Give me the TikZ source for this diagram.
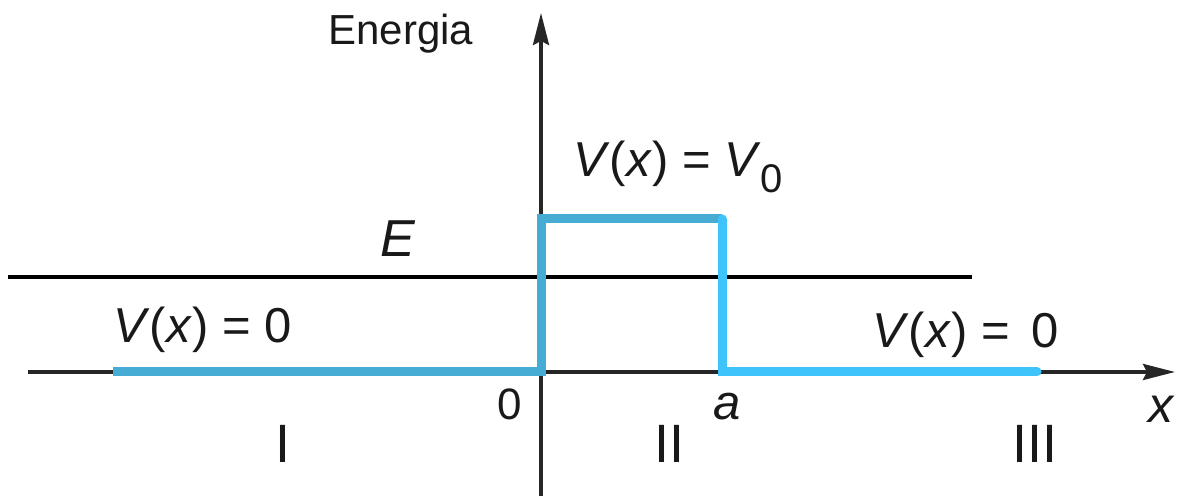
\documentclass[tikz,border=0pt]{standalone}
\usepackage{fontspec}
\setmainfont{Liberation Sans}
\usetikzlibrary{arrows.meta}
\definecolor{wellblue}{RGB}{70,172,212}
\definecolor{freeblue}{RGB}{62,196,250}
\newcommand{\lowsub}[1]{\raisebox{-0.32em}{\fontsize{20}{22}\selectfont #1}}
\tikzset{
  ax/.style   = {line width=1.8pt, black!85, -{Stealth[length=16pt,width=8pt,inset=2pt]}},
  eline/.style= {line width=1.8pt, black},
  pot/.style  = {line width=4.5pt, wellblue, line join=miter},
  potr/.style = {pot, freeblue, line cap=round},
  lab/.style  = {inner sep=0pt, anchor=base west, text=black!90,
                 font=\fontsize{24.5}{28}\selectfont},
  small/.style= {lab, font=\fontsize{21}{24}\selectfont},
  reg/.style  = {lab, anchor=base, font=\fontsize{27}{30}\selectfont}
}

\begin{document}
\begin{tikzpicture}[x=0.5pt,y=0.5pt]
  \useasboundingbox (0,0) rectangle (1180,496);
  % ---- key points ----
  \coordinate (yb) at (541,0);
  \coordinate (yt) at (541,483);
  \coordinate (xl) at (28,124);
  \coordinate (xr) at (1175,124);
  \coordinate (el) at (8,219);
  \coordinate (er) at (972,219);
  \coordinate (p0) at (113,124);
  \coordinate (o)  at (541,124);
  \coordinate (ot) at (541,277);
  \coordinate (at) at (722,277);
  \coordinate (a)  at (722,124);
  \coordinate (p1) at (1037,124);

  % ---- axes and energy ----
  \draw[ax] (yb) -- (yt);
  \draw[ax] (xl) -- (xr);
  \draw[eline] (el) -- (er);

  % ---- potential ----
  \draw[pot] (p0) -- (o) -- (ot) -- (at);
  \draw[potr] (at) -- (a) -- (p1);

  % ---- labels ----
  \node[small] (en) at (328,451) {Energia};
  \node[lab] (vb) at (573,319) {\textit{V}(\textit{x}) = \textit{V}\lowsub{0}};
  \node[lab, font=\fontsize{26}{30}\selectfont] (e) at (380,239) {\textit{E}};
  \node[lab] (vl) at (113,153) {\textit{V}(\textit{x}) = 0};
  \node[lab] (vr) at (872,148) {\textit{V}(\textit{x}) =\, 0};
  \node[lab, font=\fontsize{22}{26}\selectfont] (zero) at (497,76) {0};
  \node[lab] (alab) at (713,76) {\textit{a}};
  \node[lab, font=\fontsize{25}{28}\selectfont] (xlab) at (1148,73) {\textit{x}};
  \node[reg] (r1) at (283,33) {I};
  \node[reg] (r2) at (669,33) {II};
  \node[reg] (r3) at (1035,33) {III};
\end{tikzpicture}
\end{document}
